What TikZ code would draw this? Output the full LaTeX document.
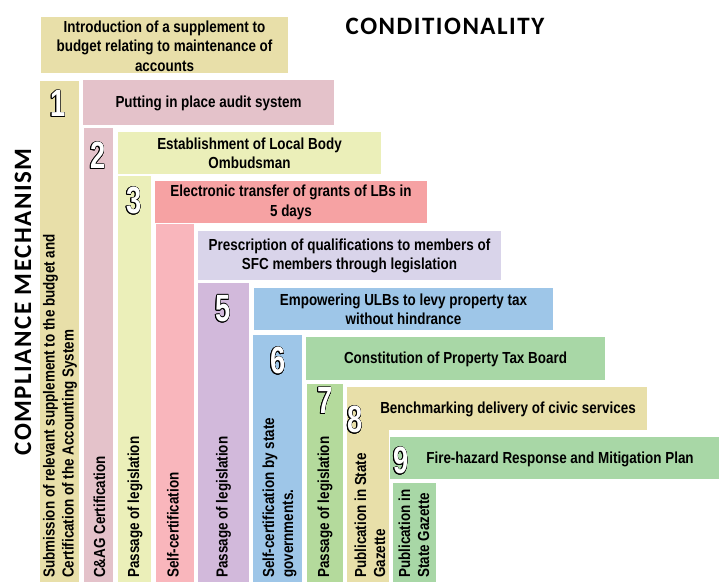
\documentclass[tikz,border=0pt]{standalone}
\usepackage{fontspec}
\usepackage{contour}
\setmainfont{Liberation Sans}
\newfontfamily\nar{Liberation Sans}[FakeStretch=0.84]
\newfontfamily\numf{Liberation Sans}[FakeStretch=0.72]
\newfontfamily\titf{Carlito}[LetterSpace=6]
\contourlength{0.6pt}
\definecolor{khaki}{HTML}{E8DFA9}
\definecolor{mauve}{HTML}{E4C2CA}
\definecolor{ygreen}{HTML}{EBEFB9}
\definecolor{salmon}{HTML}{F6A2A3}
\definecolor{lpink}{HTML}{F9B6BC}
\definecolor{lavender}{HTML}{D9D4EA}
\definecolor{purp}{HTML}{D2B9DB}
\definecolor{sky}{HTML}{9EC6E8}
\definecolor{grn}{HTML}{A8D7A6}
\definecolor{grn2}{HTML}{B4DA9C}
\begin{document}
\begin{tikzpicture}[x=1pt,y=-1pt,
  blk/.style={inner sep=0pt, outer sep=0pt, anchor=north west, draw=none},
  lbl/.style={inner sep=0pt, align=center, font=\nar\bfseries\fontsize{16}{19.5}\selectfont},
  vlbl/.style={inner sep=0pt, align=left, rotate=90, anchor=west, font=\nar\bfseries\fontsize{16}{19}\selectfont},
  num/.style={inner sep=0pt, font=\numf\bfseries\fontsize{38}{38}\selectfont},
  title/.style={inner sep=0pt, font=\titf\bfseries\fontsize{25}{25}\selectfont}]
\useasboundingbox (0,0) rectangle (719,582);
% horizontal boxes
\node[blk, fill=khaki, minimum width=247pt, minimum height=56pt] (b0) at (41,17) {};
\node[blk, fill=mauve, minimum width=251pt, minimum height=45pt] (b1) at (83,80) {};
\node[blk, fill=ygreen, minimum width=263pt, minimum height=42pt] (b2) at (118,132) {};
\node[blk, fill=salmon, minimum width=272pt, minimum height=42pt] (b3) at (155,181) {};
\node[blk, fill=lavender, minimum width=303pt, minimum height=49pt] (b4) at (198,231) {};
\node[blk, fill=sky, minimum width=299pt, minimum height=42pt] (b5) at (254,288) {};
\node[blk, fill=grn, minimum width=299pt, minimum height=43pt] (b6) at (306,337) {};
\node[blk, fill=khaki, minimum width=300pt, minimum height=43pt] (b8) at (347,387) {};
\node[blk, fill=grn, minimum width=329pt, minimum height=42pt] (b9) at (390,437) {};
% vertical columns
\node[blk, fill=khaki, minimum width=39pt, minimum height=501pt] (c1) at (40,81) {};
\node[blk, fill=mauve, minimum width=29pt, minimum height=454pt] (c2) at (84,128) {};
\node[blk, fill=ygreen, minimum width=33pt, minimum height=406pt] (c3) at (118,176) {};
\node[blk, fill=lpink, minimum width=38pt, minimum height=358pt] (c4) at (156,224) {};
\node[blk, fill=purp, minimum width=51pt, minimum height=299pt] (c5) at (198,283) {};
\node[blk, fill=sky, minimum width=49pt, minimum height=247pt] (c6) at (253,335) {};
\node[blk, fill=grn2, minimum width=36pt, minimum height=198pt] (c7) at (307,384) {};
\node[blk, fill=khaki, minimum width=42pt, minimum height=195pt] (c8) at (347,387) {};
\node[blk, fill=grn, minimum width=43pt, minimum height=99pt] (c9) at (393,483) {};
% box labels
\node[lbl] (t0) at (164.5,46) {Introduction of a supplement to\\budget relating to maintenance of\\accounts};
\node[lbl] (t1) at (208.5,103) {Putting in place audit system};
\node[lbl] (t2) at (249.5,153.5) {Establishment of Local Body\\Ombudsman};
\node[lbl] (t3) at (291,202.5) {Electronic transfer of grants of LBs in\\5 days};
\node[lbl] (t4) at (349.5,256) {Prescription of qualifications to members of\\SFC members through legislation};
\node[lbl] (t5) at (403.5,309.5) {Empowering ULBs to levy property tax\\without hindrance};
\node[lbl] (t6) at (455.5,359) {Constitution of Property Tax Board};
\node[lbl] (t8) at (508,409) {Benchmarking delivery of civic services};
\node[lbl] (t9) at (560,459) {Fire-hazard Response and Mitigation Plan};
% column labels
\node[vlbl] (v1) at (60,578) {Submission of relevant supplement to the budget and\\Certification of the Accounting System};
\node[vlbl] (v2) at (99.5,578) {C\&AG Certification};
\node[vlbl] (v3) at (135,578) {Passage of legislation};
\node[vlbl] (v4) at (173,578) {Self-certification};
\node[vlbl] (v5) at (223.5,578) {Passage of legislation};
\node[vlbl] (v6) at (279.5,578) {Self-certification by state\\governments.};
\node[vlbl] (v7) at (325,578) {Passage of legislation};
\node[vlbl] (v8) at (370,578) {Publication in State\\Gazette};
\node[vlbl] (v9) at (414,578) {Publication in\\State Gazette};
% numbers
\node[num] (n1) at (58,104) {\contour{black}{\textcolor{white}{1}}};
\node[num] (n2) at (98,156) {\contour{black}{\textcolor{white}{2}}};
\node[num] (n3) at (134,201) {\contour{black}{\textcolor{white}{3}}};
\node[num] (n5) at (223,309) {\contour{black}{\textcolor{white}{5}}};
\node[num] (n6) at (278,361) {\contour{black}{\textcolor{white}{6}}};
\node[num] (n7) at (325,401) {\contour{black}{\textcolor{white}{7}}};
\node[num] (n8) at (355,420) {\contour{black}{\textcolor{white}{8}}};
\node[num] (n9) at (401,461) {\contour{black}{\textcolor{white}{9}}};
% titles
\node[title] (cond) at (445,26) {CONDITIONALITY};
\node[title, rotate=90] (comp) at (23,302) {COMPLIANCE MECHANISM};
\end{tikzpicture}
\end{document}
